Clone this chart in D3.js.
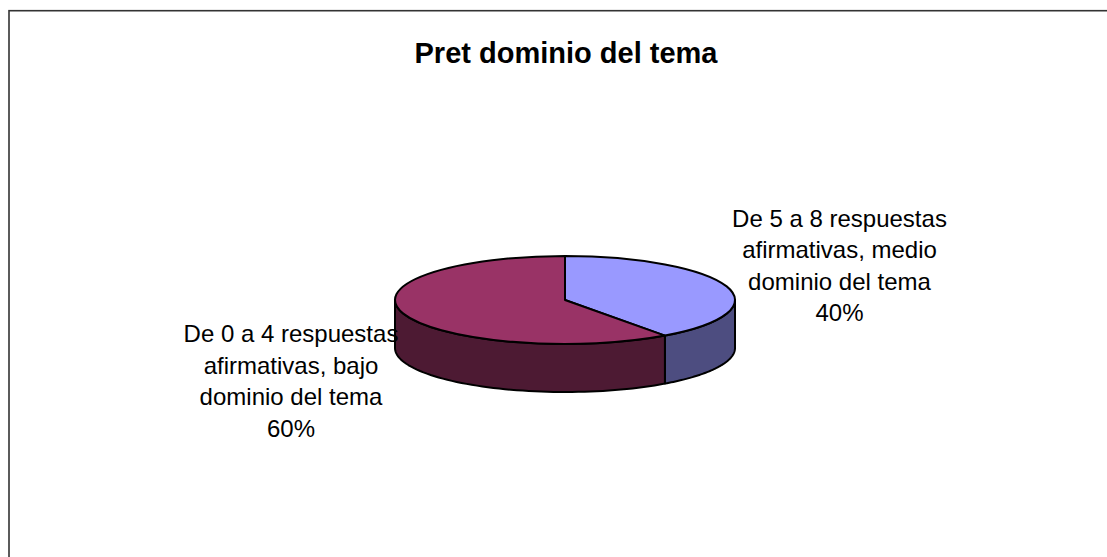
<!DOCTYPE html>
<html>
<head>
<meta charset="utf-8">
<script src="https://d3js.org/d3.v7.min.js"></script>
<style>
  html, body { margin: 0; padding: 0; background: #fff; overflow: hidden; }
  text { font-family: "Liberation Sans", Arial, sans-serif; fill: #000; }
</style>
</head>
<body>
<script>
const title = "Pret dominio del tema";
const categories = ["De 5 a 8 respuestas afirmativas, medio dominio del tema", "De 0 a 4 respuestas afirmativas, bajo dominio del tema"];
const values = [40, 60];
const topColors = ["#9999ff", "#993366"];
const sideColors = ["#4d4d80", "#4d1a33"];
// label lines as they wrap in the picture
const labelLines = [
    ["De 5 a 8 respuestas", "afirmativas, medio", "dominio del tema", "40%"],
    ["De 0 a 4 respuestas", "afirmativas, bajo", "dominio del tema", "60%"]
];

const width = 1107;
const height = 557;
const cx = 565, cy = 300;
const rx = 170, ry = 44, depth = 48;

var svg = d3.select("body").append("svg")
    .attr("width", width)
    .attr("height", height)
    .style("display", "block");

// chart border, right and bottom run off the page
svg.append("rect")
    .attr("x", 9)
    .attr("y", 10.7)
    .attr("width", 1200)
    .attr("height", 600)
    .attr("fill", "none")
    .attr("stroke", "#333")
    .attr("stroke-width", 1.6);

svg.append("text")
    .attr("x", 566)
    .attr("y", 63)
    .attr("text-anchor", "middle")
    .attr("font-size", 29)
    .attr("font-weight", "bold")
    .text(title);

const slices = d3.pie().sort(null)(values);

// projection of the tilted disc
const xscale = d3.scaleLinear().domain([-1, 1]).range([cx - rx, cx + rx]);
const yscale = d3.scaleLinear().domain([-1, 1]).range([cy - ry, cy + ry]);
const px = a => xscale(Math.sin(a));
const py = a => yscale(-Math.cos(a));

const line = d3.line().x(d => d[0]).y(d => d[1]);

// side wall: only the part of the rim facing front (angles between 90 and 270 deg)
function wall( d ) {
    const a0 = Math.max(d.startAngle, Math.PI / 2);
    const a1 = Math.min(d.endAngle, 3 * Math.PI / 2);
    if (a1 <= a0) return null;
    const n = 60;
    const angles = d3.range(n + 1).map(i => a0 + (a1 - a0) * i / n);
    const front = angles.map(a => [px(a), py(a)]);
    const back = angles.slice().reverse().map(a => [px(a), py(a) + depth]);
    return line(front.concat(back)) + "Z";
}

svg.append("g").selectAll("path")
    .data(slices)
    .enter()
    .append("path")
    .attr("d", wall)
    .attr("fill", (d, i) => sideColors[i])
    .attr("stroke", "#000")
    .attr("stroke-width", 2)
    .attr("stroke-linejoin", "round");

const arc = d3.arc().innerRadius(0).outerRadius(rx);

svg.append("g")
    .attr("transform", `translate(${cx},${cy}) scale(1,${ry / rx})`)
    .selectAll("path")
    .data(slices)
    .enter()
    .append("path")
    .attr("d", arc)
    .attr("fill", (d, i) => topColors[i])
    .attr("stroke", "#000")
    .attr("stroke-width", 2)
    .attr("stroke-linejoin", "round")
    .attr("vector-effect", "non-scaling-stroke");

// labels
const labelPos = [[839.5, 226.5], [291, 342]];
const labels = svg.append("g").selectAll("text")
    .data(labelLines)
    .enter()
    .append("text")
    .attr("text-anchor", "middle")
    .attr("font-size", 24);

labels.selectAll("tspan")
    .data((d, i) => d.map((s, j) => ({s: s, x: labelPos[i][0], y: labelPos[i][1] + j * 31.5})))
    .enter()
    .append("tspan")
    .attr("x", d => d.x)
    .attr("y", d => d.y)
    .text(d => d.s);
</script>
</body>
</html>
